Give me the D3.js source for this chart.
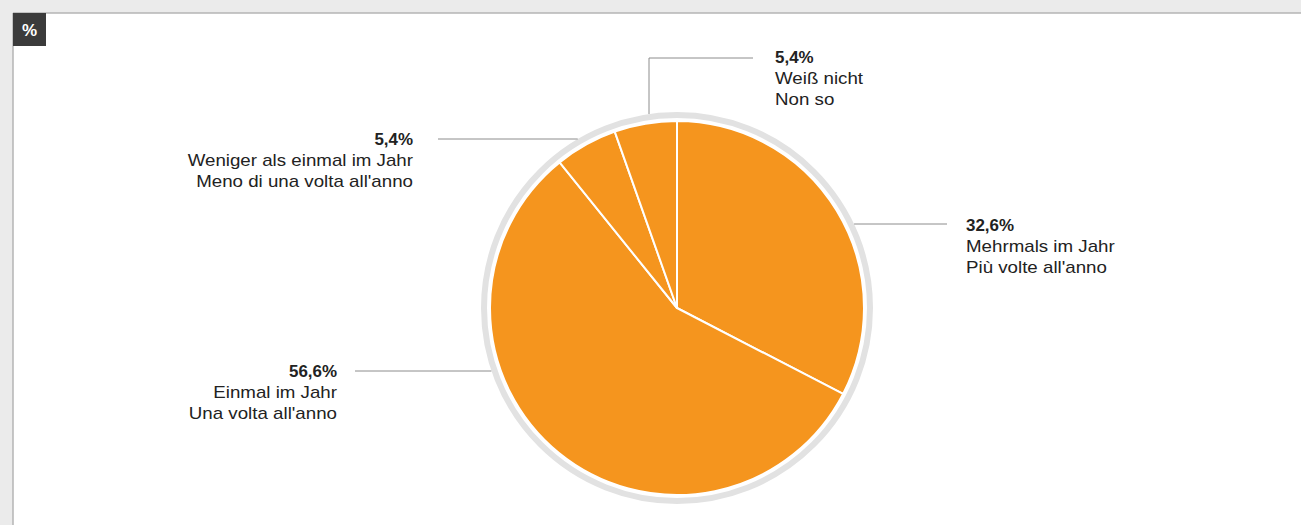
<!DOCTYPE html>
<html>
<head>
<meta charset="utf-8">
<script src="https://cdn.jsdelivr.net/npm/d3@7"></script>
<style>
  html, body { margin: 0; padding: 0; background: #ebebeb; }
  svg { display: block; font-family: "Liberation Sans", Arial, sans-serif; }
</style>
</head>
<body>
<svg id="chart" width="1301" height="525"></svg>
<script>
// ---- data ----
const categoriesDE = ["Mehrmals im Jahr", "Einmal im Jahr", "Weniger als einmal im Jahr", "Weiß nicht"];
const categoriesIT = ["Più volte all'anno", "Una volta all'anno", "Meno di una volta all'anno", "Non so"];
const values = [32.6, 56.6, 5.4, 5.4];
const unitLabel = "%";

// ---- layout ----
const W = 1301, H = 525;
const cx = 677, cy = 308, R = 187;
const ringR = 193;
const fmt = v => d3.format(".1f")(v).replace(".", ",") + "%";
const labelLayout = [
  { anchor: "start", tx: 966, ty: 231, lineY: 224, lineEnd: 947, kind: "h" },
  { anchor: "end",   tx: 337, ty: 377, lineY: 371, lineEnd: 355, kind: "h" },
  { anchor: "end",   tx: 413, ty: 145, lineY: 139, lineEnd: 438, kind: "h" },
  { anchor: "start", tx: 775, ty: 63,  lineY: 58,  lineX: 649, lineEnd: 753, kind: "v" }
];

const svg = d3.select("#chart");

// panel
svg.append("rect").attr("x", 0).attr("y", 0).attr("width", W).attr("height", H).attr("fill", "#ebebeb");
svg.append("rect").attr("x", 13).attr("y", 13).attr("width", W).attr("height", H).attr("fill", "#ffffff");
svg.append("line").attr("x1", 13).attr("x2", W).attr("y1", 13).attr("y2", 13).attr("stroke", "#b5b5b5").attr("stroke-width", 1.5);
svg.append("line").attr("x1", 13).attr("x2", 13).attr("y1", 13).attr("y2", H).attr("stroke", "#b5b5b5").attr("stroke-width", 1.5);

// badge
svg.append("rect").attr("x", 13).attr("y", 13).attr("width", 33).attr("height", 33).attr("fill", "#3b3b3b");
svg.append("text").attr("x", 29.5).attr("y", 35.5).attr("text-anchor", "middle")
  .attr("fill", "#ffffff").attr("font-size", 17).attr("font-weight", "bold").text(unitLabel);

// ring
svg.append("circle").attr("cx", cx).attr("cy", cy).attr("r", ringR)
  .attr("fill", "none").attr("stroke", "#e2e2e2").attr("stroke-width", 6);
svg.append("circle").attr("cx", cx).attr("cy", cy).attr("r", R + 1)
  .attr("fill", "#ffffff");

// pie
const pie = d3.pie().sort(null).value(d => d);
const arc = d3.arc().innerRadius(0).outerRadius(R);
const g = svg.append("g").attr("transform", `translate(${cx},${cy})`);
g.selectAll("path").data(pie(values)).join("path")
  .attr("d", arc)
  .attr("fill", "#f5951e")
  .attr("stroke", "#ffffff")
  .attr("stroke-width", 2)
  .attr("stroke-linejoin", "round");

// labels + leaders
const edgeR = ringR + 3;
function addText(x, y, anchor, str, bold) {
  const sx = bold ? 1.06 : 1.17;
  svg.append("text")
    .attr("transform", `translate(${x},${y}) scale(${sx},1)`)
    .attr("text-anchor", anchor)
    .attr("fill", "#222")
    .attr("font-size", 16)
    .attr("font-weight", bold ? "bold" : "normal")
    .text(str);
}
labelLayout.forEach((L, i) => {
  let pts;
  if (L.kind === "h") {
    const dy = L.lineY - cy;
    const dx = Math.sqrt(edgeR * edgeR - dy * dy);
    const sx = L.anchor === "start" ? cx + dx : cx - dx;
    pts = [[sx, L.lineY], [L.lineEnd, L.lineY]];
  } else {
    const dx = L.lineX - cx;
    const dy = Math.sqrt(edgeR * edgeR - dx * dx);
    pts = [[L.lineX, cy - dy], [L.lineX, L.lineY], [L.lineEnd, L.lineY]];
  }
  svg.append("path").attr("d", d3.line()(pts))
    .attr("fill", "none").attr("stroke", "#8c8c8c").attr("stroke-width", 1);

  addText(L.tx, L.ty, L.anchor, fmt(values[i]), true);
  addText(L.tx, L.ty + 21, L.anchor, categoriesDE[i], false);
  addText(L.tx, L.ty + 42, L.anchor, categoriesIT[i], false);
});
</script>
</body>
</html>
